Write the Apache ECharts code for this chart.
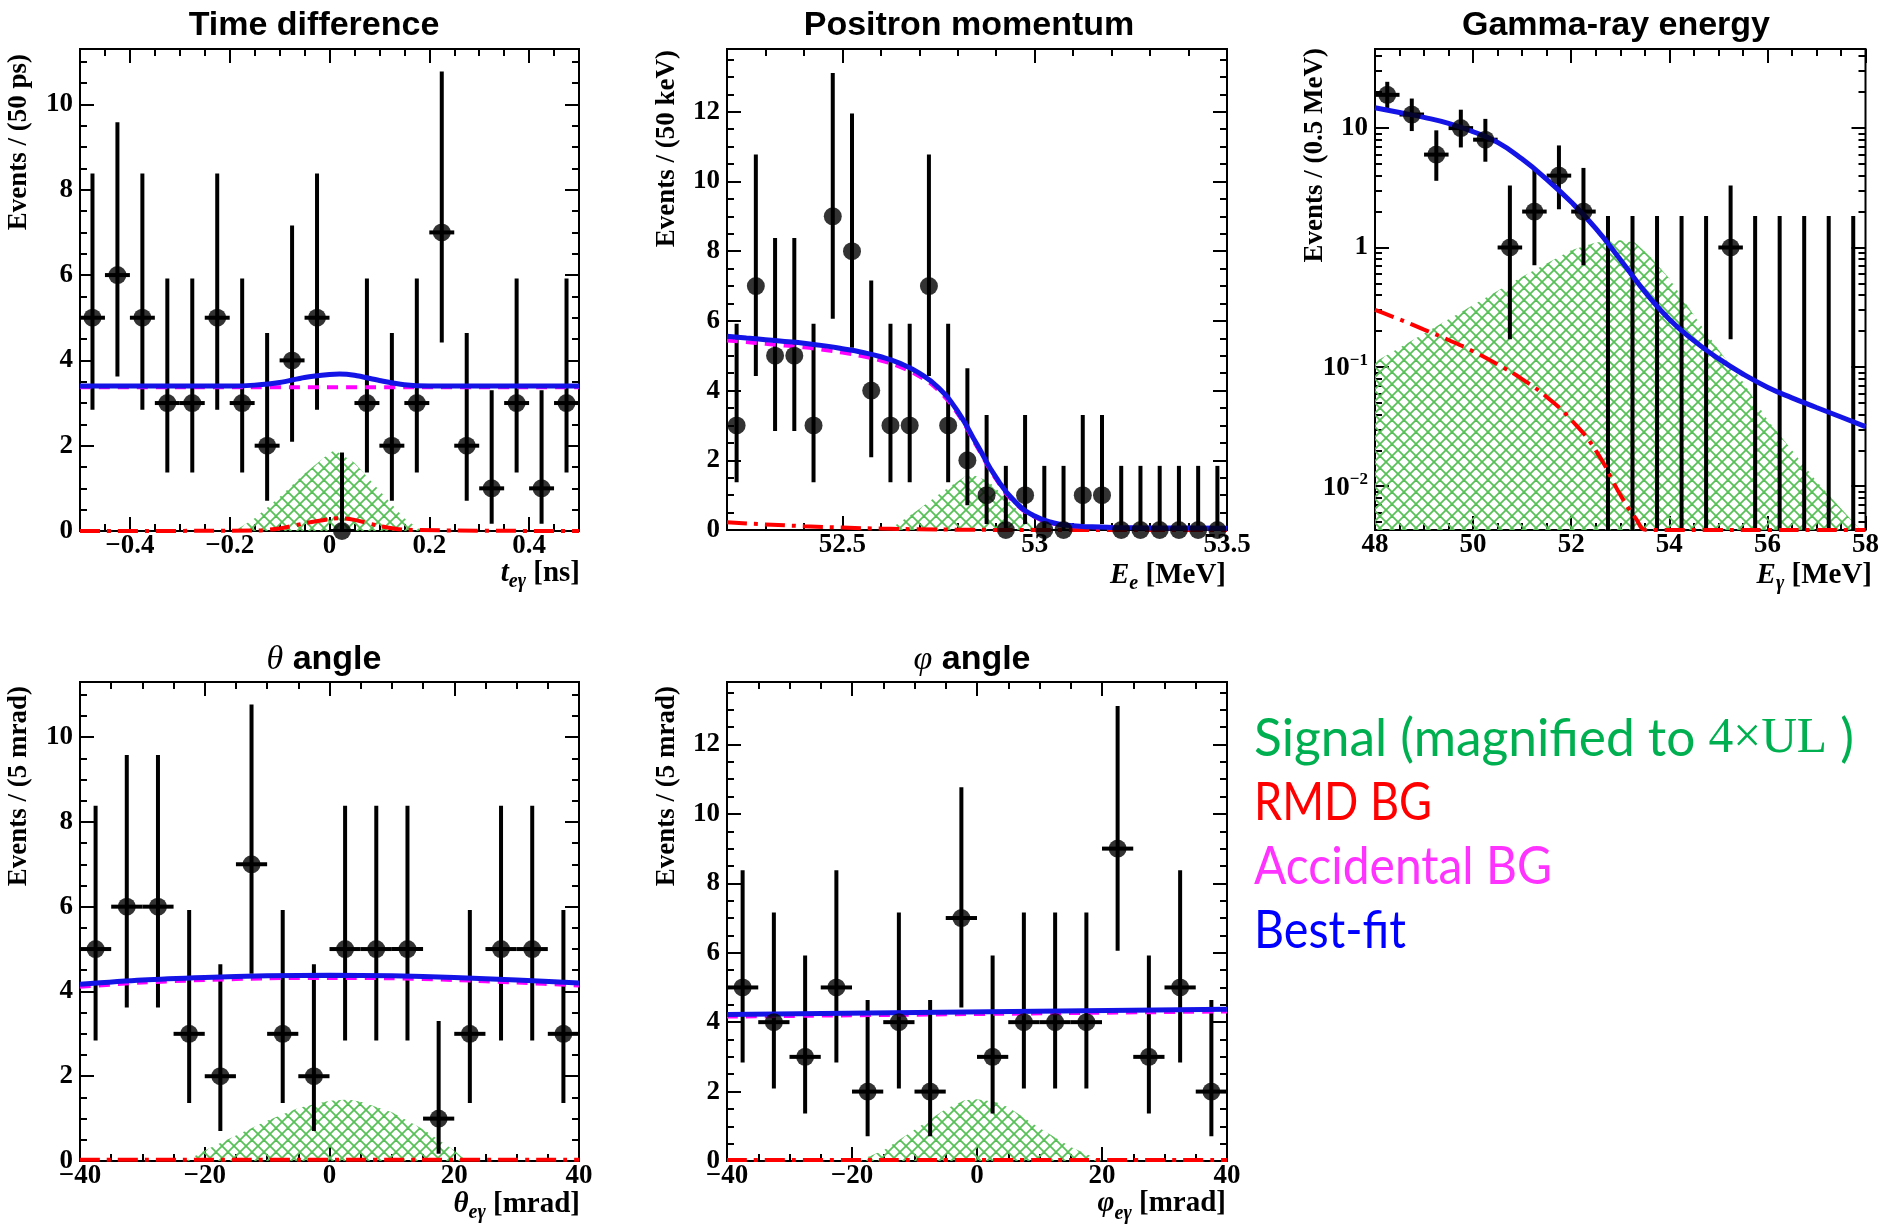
<!DOCTYPE html>
<html><head><meta charset="utf-8">
<script src="https://cdn.jsdelivr.net/npm/echarts@6/dist/echarts.min.js"></script>
<style>html,body{margin:0;padding:0;background:#fff}#c{width:1882px;height:1225px}</style>
</head><body><div id="c"></div>
<script>
// ================= DATA =================
// Panel 1: Time difference (t_eγ, ns)
const timeBins   = [-0.475,-0.425,-0.375,-0.325,-0.275,-0.225,-0.175,-0.125,-0.075,-0.025,0.025,0.075,0.125,0.175,0.225,0.275,0.325,0.375,0.425,0.475];
const timeCounts = [5,6,5,3,3,5,3,2,4,5,0,3,2,3,7,2,1,3,1,3];
const timeErrLo  = [2.84,3.62,2.84,1.37,1.37,2.84,1.37,0.71,2.09,2.84,0,1.37,0.71,1.37,4.42,0.71,0.17,1.37,0.17,1.37];
const timeErrHi  = [8.38,9.58,8.38,5.92,5.92,8.38,5.92,4.64,7.16,8.38,1.84,5.92,4.64,5.92,10.77,4.64,3.30,5.92,3.30,5.92];
const timeFitX   = [-0.5,-0.2,-0.15,-0.1,-0.05,0,0.02,0.05,0.1,0.15,0.2,0.5];
const timeFitY   = [3.4,3.4,3.42,3.48,3.6,3.67,3.68,3.65,3.53,3.43,3.4,3.4];
const timeAccX   = [-0.5,0.5];
const timeAccY   = [3.37,3.37];
const timeRmdX   = [-0.5,-0.15,-0.1,-0.05,0,0.02,0.05,0.1,0.15,0.5];
const timeRmdY   = [0,0.01,0.06,0.18,0.28,0.3,0.26,0.12,0.03,0];
const timeSigX   = [-0.19,-0.15,-0.1,-0.05,0,0.01,0.05,0.1,0.15,0.185];
const timeSigY   = [0,0.3,0.8,1.35,1.82,1.9,1.6,0.95,0.3,0];
const timeXTicks = [-0.4,-0.2,0,0.2,0.4];
const timeYTicks = [0,2,4,6,8,10];

// Panel 2: Positron momentum (E_e, MeV)
const posBins   = [52.225,52.275,52.325,52.375,52.425,52.475,52.525,52.575,52.625,52.675,52.725,52.775,52.825,52.875,52.925,52.975,53.025,53.075,53.125,53.175,53.225,53.275,53.325,53.375,53.425,53.475];
const posCounts = [3,7,5,5,3,9,8,4,3,3,7,3,2,1,0,1,0,0,1,1,0,0,0,0,0,0];
const posErrLo  = [1.37,4.42,2.84,2.84,1.37,6.06,5.23,2.09,1.37,1.37,4.42,1.37,0.71,0.17,0,0.17,0,0,0.17,0.17,0,0,0,0,0,0];
const posErrHi  = [5.92,10.77,8.38,8.38,5.92,13.11,11.95,7.16,5.92,5.92,10.77,5.92,4.64,3.30,1.84,3.30,1.84,1.84,3.30,3.30,1.84,1.84,1.84,1.84,1.84,1.84];
const posFitX   = [52.2,52.25,52.3,52.35,52.4,52.45,52.5,52.55,52.6,52.65,52.7,52.75,52.8,52.85,52.9,52.95,53.0,53.05,53.1,53.15,53.2,53.3,53.4,53.5];
const posFitY   = [5.56,5.51,5.46,5.41,5.36,5.29,5.2,5.1,4.97,4.78,4.5,4.08,3.4,2.45,1.5,0.8,0.4,0.2,0.12,0.09,0.075,0.06,0.055,0.05];
const posAccX   = [52.2,52.25,52.3,52.35,52.4,52.45,52.5,52.55,52.6,52.65,52.7,52.75,52.8,52.85,52.9,52.95,53.0,53.05,53.1,53.15,53.2,53.3,53.4,53.5];
const posAccY   = [5.44,5.39,5.34,5.29,5.24,5.17,5.09,4.99,4.86,4.68,4.41,4.0,3.33,2.39,1.45,0.76,0.37,0.18,0.11,0.08,0.07,0.055,0.05,0.05];
const posRmdX   = [52.2,52.3,52.4,52.5,52.6,52.7,52.8,53.0,53.5];
const posRmdY   = [0.22,0.16,0.11,0.07,0.04,0.02,0.01,0,0];
const posSigX   = [52.62,52.7,52.76,52.83,52.88,52.94,53.0];
const posSigY   = [0,0.6,1.1,1.62,1.4,0.75,0];
const posXTicks = [52.5,53,53.5];
const posYTicks = [0,2,4,6,8,10,12];

// Panel 3: Gamma-ray energy (E_γ, MeV), log scale
const gamBins   = [48.25,48.75,49.25,49.75,50.25,50.75,51.25,51.75,52.25,52.75,53.25,53.75,54.25,54.75,55.25,55.75,56.25,56.75,57.25,57.75];
const gamCounts = [19,13,6,10,8,1,2,4,2,0,0,0,0,0,1,0,0,0,0,0];
const gamErrLo  = [14.68,9.45,3.62,6.89,5.23,0.17,0.71,2.09,0.71,0,0,0,0,0,0.17,0,0,0,0,0];
const gamErrHi  = [24.43,17.69,9.58,14.27,11.95,3.30,4.64,7.16,4.64,1.84,1.84,1.84,1.84,1.84,3.30,1.84,1.84,1.84,1.84,1.84];
const gamFitX   = [48,48.5,49,49.5,50,50.5,51,51.5,52,52.5,53,53.5,54,54.5,55,55.5,56,56.5,57,57.5,58];
const gamFitY   = [14.8,13.5,12.3,10.96,9.33,7.59,5.5,3.72,2.4,1.445,0.794,0.427,0.251,0.166,0.1175,0.0871,0.0676,0.055,0.0457,0.038,0.0316];
const gamRmdX   = [48,48.5,49,49.5,50,50.5,51,51.5,52,52.5,53,53.3,53.55,54,55,56,57,58];
const gamRmdY   = [0.30,0.25,0.205,0.168,0.135,0.105,0.079,0.056,0.036,0.02,0.0085,0.0055,0.0043,0.0043,0.0043,0.0043,0.0043,0.0043];
const gamSigX   = [48,49,50,51,52,52.5,53,53.3,53.6,54,54.5,55,55.5,56,56.5,57,57.5,57.9];
const gamSigY   = [0.11,0.19,0.33,0.57,0.95,1.1,1.15,1.1,0.85,0.55,0.27,0.14,0.075,0.036,0.02,0.011,0.0065,0.0043];
const gamXTicks = [48,50,52,54,56,58];
const gamYTicks = [0.01,0.1,1,10];

// Panel 4: θ angle (θ_eγ, mrad)
const thBins   = [-37.5,-32.5,-27.5,-22.5,-17.5,-12.5,-7.5,-2.5,2.5,7.5,12.5,17.5,22.5,27.5,32.5,37.5];
const thCounts = [5,6,6,3,2,7,3,2,5,5,5,1,3,5,5,3];
const thErrLo  = [2.84,3.62,3.62,1.37,0.71,4.42,1.37,0.71,2.84,2.84,2.84,0.17,1.37,2.84,2.84,1.37];
const thErrHi  = [8.38,9.58,9.58,5.92,4.64,10.77,5.92,4.64,8.38,8.38,8.38,3.30,5.92,8.38,8.38,5.92];
const thFitX   = [-40,-30,-20,-10,0,10,20,30,40];
const thFitY   = [4.17,4.27,4.33,4.37,4.38,4.37,4.33,4.27,4.2];
const thAccX   = [-40,-30,-20,-10,0,10,20,30,40];
const thAccY   = [4.11,4.21,4.27,4.31,4.32,4.31,4.27,4.21,4.14];
const thRmdX   = [-40,40];
const thRmdY   = [0.03,0.03];
const thSigX   = [-23,-20,-15,-10,-5,0,3,5,10,15,20,22];
const thSigY   = [0,0.25,0.6,0.95,1.25,1.42,1.45,1.4,1.15,0.75,0.25,0];
const thXTicks = [-40,-20,0,20,40];
const thYTicks = [0,2,4,6,8,10];

// Panel 5: φ angle (φ_eγ, mrad)
const phBins   = [-37.5,-32.5,-27.5,-22.5,-17.5,-12.5,-7.5,-2.5,2.5,7.5,12.5,17.5,22.5,27.5,32.5,37.5];
const phCounts = [5,4,3,5,2,4,2,7,3,4,4,4,9,3,5,2];
const phErrLo  = [2.84,2.09,1.37,2.84,0.71,2.09,0.71,4.42,1.37,2.09,2.09,2.09,6.06,1.37,2.84,0.71];
const phErrHi  = [8.38,7.16,5.92,8.38,4.64,7.16,4.64,10.77,5.92,7.16,7.16,7.16,13.11,5.92,8.38,4.64];
const phFitX   = [-40,40];
const phFitY   = [4.22,4.37];
const phAccX   = [-40,40];
const phAccY   = [4.16,4.31];
const phRmdX   = [-40,40];
const phRmdY   = [0.03,0.03];
const phSigX   = [-19,-15,-10,-5,-2,0,3,5,10,15,20];
const phSigY   = [0,0.3,0.9,1.5,1.75,1.78,1.7,1.55,0.95,0.4,0];
const phXTicks = [-40,-20,0,20,40];
const phYTicks = [0,2,4,6,8,10,12];

// Text
const titles   = ['Time difference','Positron momentum','Gamma-ray energy','angle','angle'];
const yTitles  = ['Events / (50 ps)','Events / (50 keV)','Events / (0.5 MeV)','Events / (5 mrad)','Events / (5 mrad)'];
const legendTexts = ['RMD BG','Accidental BG','Best-fit'];

// ================= HELPERS =================
const mctx = document.createElement('canvas').getContext('2d');
function tw(t, f){ mctx.font = f; return mctx.measureText(t).width; }
function steps(a,b,s){ const r=[]; for(let i=0;;i++){ const v=+(a+i*s).toFixed(6); if(v>b+1e-9) break; r.push(v);} return r; }
function logMinor(lo,hi){ const r=[]; for(let e=-3;e<=2;e++) for(let m=1;m<=9;m++){ const v=+(m*Math.pow(10,e)).toPrecision(6); if(v>=lo&&v<=hi) r.push(v);} return r; }
function pts(xs,ys){ return xs.map((x,i)=>[x,ys[i]]); }
function fmtNum(v){ return String(+(+v).toFixed(4)).replace('-','\u2212'); }

const HATCH = (function(){ const n=12; const c=document.createElement('canvas'); c.width=n; c.height=n; const x=c.getContext('2d');
  x.strokeStyle='rgb(88,192,88)'; x.lineWidth=1.8;
  for (const k of [-n,0,n]) { x.beginPath(); x.moveTo(k,0); x.lineTo(k+n,n); x.stroke(); x.beginPath(); x.moveTo(k,n); x.lineTo(k+n,0); x.stroke(); }
  return c; })();

const LAB_FONT = {fontFamily:'Liberation Serif', fontWeight:'bold', fontSize:27, color:'#000'};
const BLUE='#1414e6', MAG='#ff00ff', RED='#ff0000';

const panels = [
 {grid:{left:80,top:49,width:499,height:482}, x:[-0.5,0.5], y:[0,11.3], log:false, smooth:0.3,
  xMaj:timeXTicks, xMin:steps(-0.5,0.5,0.05), yMaj:timeYTicks, yMin:steps(0,11.3,0.5), hw:0.025,
  bins:timeBins, c:timeCounts, lo:timeErrLo, hi:timeErrHi, fit:pts(timeFitX,timeFitY), acc:pts(timeAccX,timeAccY), rmd:pts(timeRmdX,timeRmdY), sig:pts(timeSigX,timeSigY)},
 {grid:{left:727,top:49,width:500,height:481}, x:[52.2,53.5], y:[0,13.8], log:false, smooth:0.5,
  xMaj:posXTicks, xMin:steps(52.2,53.5,0.1), yMaj:posYTicks, yMin:steps(0,13.8,0.5), hw:0,
  bins:posBins, c:posCounts, lo:posErrLo, hi:posErrHi, fit:pts(posFitX,posFitY), acc:pts(posAccX,posAccY), rmd:pts(posRmdX,posRmdY), sig:pts(posSigX,posSigY)},
 {grid:{left:1375,top:49,width:499,height:481}, x:[48,58], y:[0.0043,46], log:true, smooth:0.5,
  xMaj:gamXTicks, xMin:steps(48,58,0.5), yMaj:gamYTicks, yMin:logMinor(0.0043,46), hw:0.25,
  bins:gamBins, c:gamCounts, lo:gamErrLo, hi:gamErrHi, fit:pts(gamFitX,gamFitY), acc:null, rmd:pts(gamRmdX,gamRmdY), sig:pts(gamSigX,gamSigY)},
 {grid:{left:80,top:682,width:499,height:479}, x:[-40,40], y:[0,11.3], log:false, smooth:0.3,
  xMaj:thXTicks, xMin:steps(-40,40,5), yMaj:thYTicks, yMin:steps(0,11.3,0.5), hw:2.5,
  bins:thBins, c:thCounts, lo:thErrLo, hi:thErrHi, fit:pts(thFitX,thFitY), acc:pts(thAccX,thAccY), rmd:pts(thRmdX,thRmdY), sig:pts(thSigX,thSigY)},
 {grid:{left:727,top:682,width:500,height:479}, x:[-40,40], y:[0,13.8], log:false, smooth:0.3,
  xMaj:phXTicks, xMin:steps(-40,40,5), yMaj:phYTicks, yMin:steps(0,13.8,0.5), hw:2.5,
  bins:phBins, c:phCounts, lo:phErrLo, hi:phErrHi, fit:pts(phFitX,phFitY), acc:pts(phAccX,phAccY), rmd:pts(phRmdX,phRmdY), sig:pts(phSigX,phSigY)}
];

const grids=[], xAxes=[], yAxes=[], series=[];
function tick(vals,len){ return {show:true, inside:true, length:len, customValues:vals, lineStyle:{color:'#000', width:2}}; }
function logLabel(v){ const e=Math.round(Math.log10(v)); if(e===0) return '1'; if(e===1) return '10'; return '{a|10}{s|'+(e<0?'\u2212':'')+Math.abs(e)+'}'; }

panels.forEach((p,g)=>{
  grids.push(Object.assign({show:true, borderColor:'#000', borderWidth:2, backgroundColor:'rgba(0,0,0,0)', containLabel:false}, p.grid));
  const noLine = {show:false, onZero:false};
  const xb = {gridIndex:g, type:'value', min:p.x[0], max:p.x[1], splitLine:{show:false}, axisLine:noLine, silent:true};
  const yb = {gridIndex:g, type:p.log?'log':'value', logBase:10, min:p.y[0], max:p.y[1], splitLine:{show:false}, axisLine:noLine, silent:true};
  const xi = xAxes.length, yi = yAxes.length;
  xAxes.push(Object.assign({}, xb, {position:'bottom', axisTick:tick(p.xMaj,14),
     axisLabel:Object.assign({show:true, customValues:p.xMaj, margin:2, formatter:fmtNum}, LAB_FONT)}));
  xAxes.push(Object.assign({}, xb, {position:'bottom', axisTick:tick(p.xMin,7), axisLabel:{show:false}}));
  xAxes.push(Object.assign({}, xb, {position:'top', axisTick:tick(p.xMaj,14), axisLabel:{show:false}}));
  xAxes.push(Object.assign({}, xb, {position:'top', axisTick:tick(p.xMin,7), axisLabel:{show:false}}));
  const yl = p.log ? Object.assign({show:true, customValues:p.yMaj, margin:7, formatter:logLabel,
        rich:{a:Object.assign({lineHeight:30, verticalAlign:'bottom'}, LAB_FONT), s:Object.assign({}, LAB_FONT, {fontSize:17, lineHeight:17, verticalAlign:'top'})}}, LAB_FONT)
     : Object.assign({show:true, customValues:p.yMaj, margin:7, formatter:fmtNum}, LAB_FONT);
  yAxes.push(Object.assign({}, yb, {position:'left', axisTick:tick(p.yMaj,14), axisLabel:yl}));
  yAxes.push(Object.assign({}, yb, {position:'left', axisTick:tick(p.yMin,7), axisLabel:{show:false}}));
  yAxes.push(Object.assign({}, yb, {position:'right', axisTick:tick(p.yMaj,14), axisLabel:{show:false}}));
  yAxes.push(Object.assign({}, yb, {position:'right', axisTick:tick(p.yMin,7), axisLabel:{show:false}}));

  const common = {xAxisIndex:xi, yAxisIndex:yi, animation:false, silent:true};
  const sm = {smooth:p.smooth};
  // signal hatched area
  series.push(Object.assign({type:'line', data:p.sig, symbol:'none', lineStyle:{width:0, opacity:0},
     areaStyle:{color:{image:HATCH, repeat:'repeat'}, opacity:1, origin:'start'}, z:2, clip:true}, common));
  // error bars
  const yMinV = p.y[0], isLog = p.log;
  series.push(Object.assign({type:'custom', z:3, clip:true,
     data:p.bins.map((x,i)=>[x, p.lo[i], p.hi[i], p.c[i], p.hw]),
     encode:{x:0, y:2},
     renderItem:function(params, api){
       const x=api.value(0), lo=api.value(1), hi=api.value(2), c=api.value(3), hw=api.value(4);
       const loV = isLog ? Math.max(lo, yMinV) : lo;
       const a=api.coord([x,loV]), b=api.coord([x,hi]);
       const ch=[{type:'line', shape:{x1:a[0],y1:a[1],x2:b[0],y2:b[1]}, style:{stroke:'#000', lineWidth:4}}];
       if (hw>0 && (!isLog || c>0)) { const l=api.coord([x-hw,c]), r=api.coord([x+hw,c]);
         ch.push({type:'line', shape:{x1:l[0],y1:l[1],x2:r[0],y2:r[1]}, style:{stroke:'#000', lineWidth:4}}); }
       return {type:'group', children:ch};
     }}, common));
  // RMD
  series.push(Object.assign({type:'line', data:p.rmd, symbol:'none', clip:false,
     lineStyle:{color:RED, width:4, type:[20,7,4,7]}, z:4}, sm, common));
  if (p.acc) series.push(Object.assign({type:'line', data:p.acc, symbol:'none', clip:false,
     lineStyle:{color:MAG, width:4, type:[11,8]}, z:5}, sm, common));
  series.push(Object.assign({type:'line', data:p.fit, symbol:'none', clip:false,
     lineStyle:{color:BLUE, width:5}, z:6}, sm, common));
  series.push(Object.assign({type:'scatter', symbol:'circle', symbolSize:18, clip:false, itemStyle:{color:'#000'},
     data:p.bins.map((x,i)=> (isLog && p.c[i]<=0) ? null : [x, p.c[i]]).filter(d=>d), z:7}, common));
});

// ================= GRAPHIC TEXT =================
const els = [];
function txt(x,y,t,font,fill,extra){ return Object.assign({type:'text', x:x, y:y, z:100, silent:true,
  style:{text:t, font:font, fill:fill||'#000', align:'left', textAlign:'left', verticalAlign:'middle', textVerticalAlign:'middle'}}, extra||{}); }
const F_T  = 'bold 34px "Liberation Sans"';
const F_TG = 'italic 34px "Liberation Serif"';
const F_AY = 'bold 27px "Liberation Serif"';
const F_AX = 'bold 29px "Liberation Serif"';
const F_AXI= 'italic bold 29px "Liberation Serif"';
const F_SUB= 'italic bold 20px "Liberation Serif"';

// titles
const titleCx = [314, 969, 1616, 324, 972], titleCy = [26, 26, 26, 660, 660];
[0,1,2].forEach(i=>{ const w=tw(titles[i],F_T); els.push(txt(titleCx[i]-w/2, titleCy[i], titles[i], F_T)); });
[['\u03b8',3],['\u03c6',4]].forEach(([s,i])=>{ const w1=tw(s,F_TG), w2=tw(' '+titles[i],F_T); const x0=titleCx[i]-(w1+w2)/2;
  els.push(txt(x0, titleCy[i], s, F_TG)); els.push(txt(x0+w1, titleCy[i], ' '+titles[i], F_T)); });

// y titles (rotated, top-aligned)
const yT = [[19,54],[667,50],[1315,48],[19,686],[667,686]];
yT.forEach(([x,y],i)=>{ els.push({type:'text', x:x, y:y, rotation:Math.PI/2, z:100, silent:true,
  style:{text:yTitles[i], font:F_AY, fill:'#000', align:'right', textAlign:'right', verticalAlign:'middle', textVerticalAlign:'middle'}}); });

// x titles
function xTitle(parts, right, cy){ let x=right; for(let i=parts.length-1;i>=0;i--){ const p=parts[i]; x-=tw(p[0],p[1]); els.push(txt(x, cy+(p[2]||0), p[0], p[1])); } }
xTitle([['t',F_AXI],['e\u03b3',F_SUB,8],[' [ns]',F_AX]], 580, 574);
xTitle([['E',F_AXI],['e',F_SUB,8],[' [MeV]',F_AX]], 1226, 576);
xTitle([['E',F_AXI],['\u03b3',F_SUB,8],[' [MeV]',F_AX]], 1872, 576);
xTitle([['\u03b8',F_AXI],['e\u03b3',F_SUB,8],[' [mrad]',F_AX]], 580, 1205);
xTitle([['\u03c6',F_AXI],['e\u03b3',F_SUB,10],[' [mrad]',F_AX]], 1226, 1204);

// legend text
const F_LG = '53px Lato', F_LGM = '51px "Liberation Serif"';
(function(){
  const a='Signal (magnified to ', b='4\u00d7UL', c=' )';
  const wa=tw(a,F_LG), wb=tw(b,F_LGM), wc=tw(c,F_LG); const sx=600/(wa+wb+wc); let x=1254, y=739;
  els.push(txt(x,y,a,F_LG,'#00b050',{scaleX:sx})); x+=wa*sx;
  els.push(txt(x,y,b,F_LGM,'#00b050',{scaleX:sx})); x+=wb*sx;
  els.push(txt(x,y,c,F_LG,'#00b050',{scaleX:sx}));
  const targ=[178,298,152], ys=[803,867,931], cols=['#ff0000','#ff33ff','#0000ff'];
  legendTexts.forEach((t,i)=>{ const s=targ[i]/tw(t,F_LG); els.push(txt(1254, ys[i], t, F_LG, cols[i], {scaleX:s})); });
})();

const chart = echarts.init(document.getElementById('c'), null, {renderer:'canvas'});
chart.setOption({animation:false, backgroundColor:'#fff', grid:grids, xAxis:xAxes, yAxis:yAxes, series:series, graphic:{elements:els}});
</script></body></html>
